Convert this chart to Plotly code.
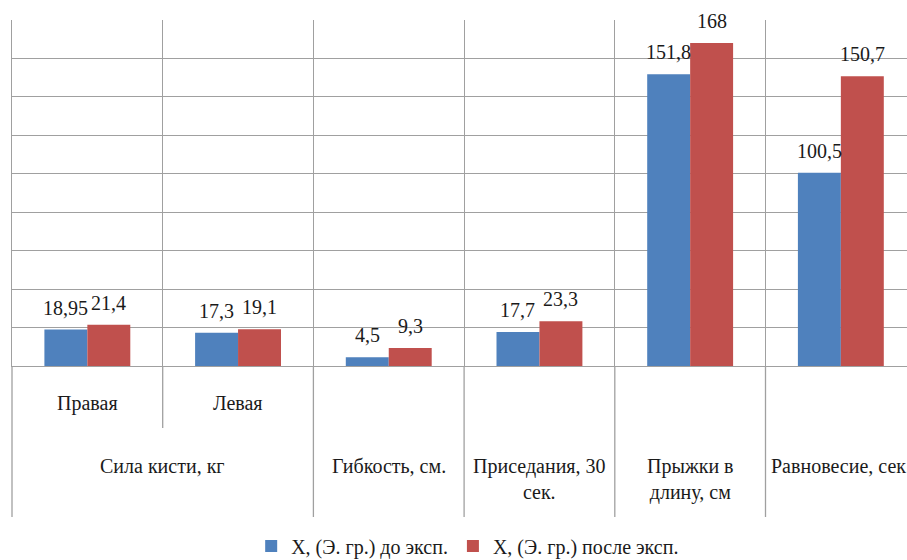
import plotly.graph_objects as go

# Показатели: подписи нижнего уровня и групп оси X
sub_labels = ["Правая", "Левая", "", "", "", ""]
group_labels = ["Сила кисти, кг", "Гибкость, см.", "Приседания, 30<br>сек.",
                "Прыжки в<br>длину, см", "Равновесие, сек."]
group_sizes = [2, 1, 1, 1, 1]

series_names = ["X, (Э. гр.) до эксп.", "X, (Э. гр.) после эксп."]
before_vals = [18.95, 17.3, 4.5, 17.7, 151.8, 100.5]
after_vals = [21.4, 19.1, 9.3, 23.3, 168, 150.7]

y_ticks = list(range(0, 181, 20))

BLUE = "#4F81BD"
RED = "#C0504D"
GRID = "#a0a0a0"
FONT = "Liberation Serif"
FS = 20

W, H = 907, 560
ML, MT, MB = 12, 20, 194
BARGAP = 0.43
CAT_PX = 150.7  # ширина одной категории в пикселях

n = len(sub_labels)
xs = list(range(n))
plot_w = W - ML
x_min = -0.5
x_max = x_min + plot_w / CAT_PX
plot_h = H - MT - MB


def px_to_paper_y(dy):
    """Смещение вниз от оси X (в пикселях) -> координата paper."""
    return -dy / plot_h


def x_to_paper(xv):
    return (xv - x_min) / (x_max - x_min)


def tfont(size=FS):
    return dict(family=FONT, size=size, color="#1a1a1a")


fig = go.Figure()
fig.add_trace(go.Bar(x=xs, y=before_vals, name=series_names[0],
                     marker=dict(color=BLUE, line=dict(width=0))))
fig.add_trace(go.Bar(x=xs, y=after_vals, name=series_names[1],
                     marker=dict(color=RED, line=dict(width=0))))

annotations = []
half = (1 - BARGAP) / 4  # смещение центра столбца от центра категории


def fmt(v):
    return f"{v:g}".replace(".", ",")


# Подписи значений над столбцами
for vals, sign in ((before_vals, -1), (after_vals, 1)):
    for i, v in enumerate(vals):
        annotations.append(dict(
            x=i + sign * half, y=v, xref="x", yref="y", text=fmt(v),
            showarrow=False, yanchor="middle", yshift=22, font=tfont()))

# Подписи нижнего уровня
for i, lab in enumerate(sub_labels):
    if lab:
        annotations.append(dict(
            x=i, y=px_to_paper_y(37), xref="x", yref="paper", text=lab,
            showarrow=False, yanchor="middle", font=tfont()))

# Подписи групп
start = 0
for lab, size in zip(group_labels, group_sizes):
    center = start + (size - 1) / 2
    annotations.append(dict(
        x=center, y=px_to_paper_y(87), xref="x", yref="paper", text=lab,
        showarrow=False, yanchor="top", align="center", font=tfont()))
    start += size

# Вертикальные линии ниже области построения
shapes = []
bounds = [-0.5]
acc = 0
for size in group_sizes:
    acc += size
    bounds.append(acc - 0.5)
for b in bounds:
    if b <= x_max:
        shapes.append(dict(type="line", xref="paper", yref="paper",
                           x0=x_to_paper(b), x1=x_to_paper(b),
                           y0=0, y1=px_to_paper_y(151),
                           line=dict(color=GRID, width=1.3)))
# Внутренний разделитель (Правая | Левая)
shapes.append(dict(type="line", xref="paper", yref="paper",
                   x0=x_to_paper(0.5), x1=x_to_paper(0.5),
                   y0=0, y1=px_to_paper_y(62),
                   line=dict(color=GRID, width=1.3)))

fig.update_layout(
    width=W, height=H,
    margin=dict(l=ML, r=0, t=MT, b=MB, autoexpand=False),
    paper_bgcolor="white", plot_bgcolor="white",
    barmode="group", bargap=BARGAP, bargroupgap=0,
    xaxis=dict(range=[x_min, x_max], tick0=-0.5, dtick=1, showgrid=True,
               gridcolor=GRID, gridwidth=1.3, showticklabels=False,
               ticks="", zeroline=False, showline=True, linecolor=GRID,
               linewidth=1.3),
    yaxis=dict(range=[0, 180], tickvals=y_ticks, showgrid=True,
               gridcolor=GRID, gridwidth=1.3, showticklabels=False,
               ticks="", zeroline=False, showline=True, linecolor=GRID,
               linewidth=1.3),
    showlegend=True,
    legend=dict(orientation="h", x=x_to_paper(2.5) + 0.004, xanchor="center",
                y=px_to_paper_y(180), yanchor="middle",
                font=tfont(FS), itemclick=False),
    annotations=annotations,
    shapes=shapes,
)

fig.write_html("out.html")
